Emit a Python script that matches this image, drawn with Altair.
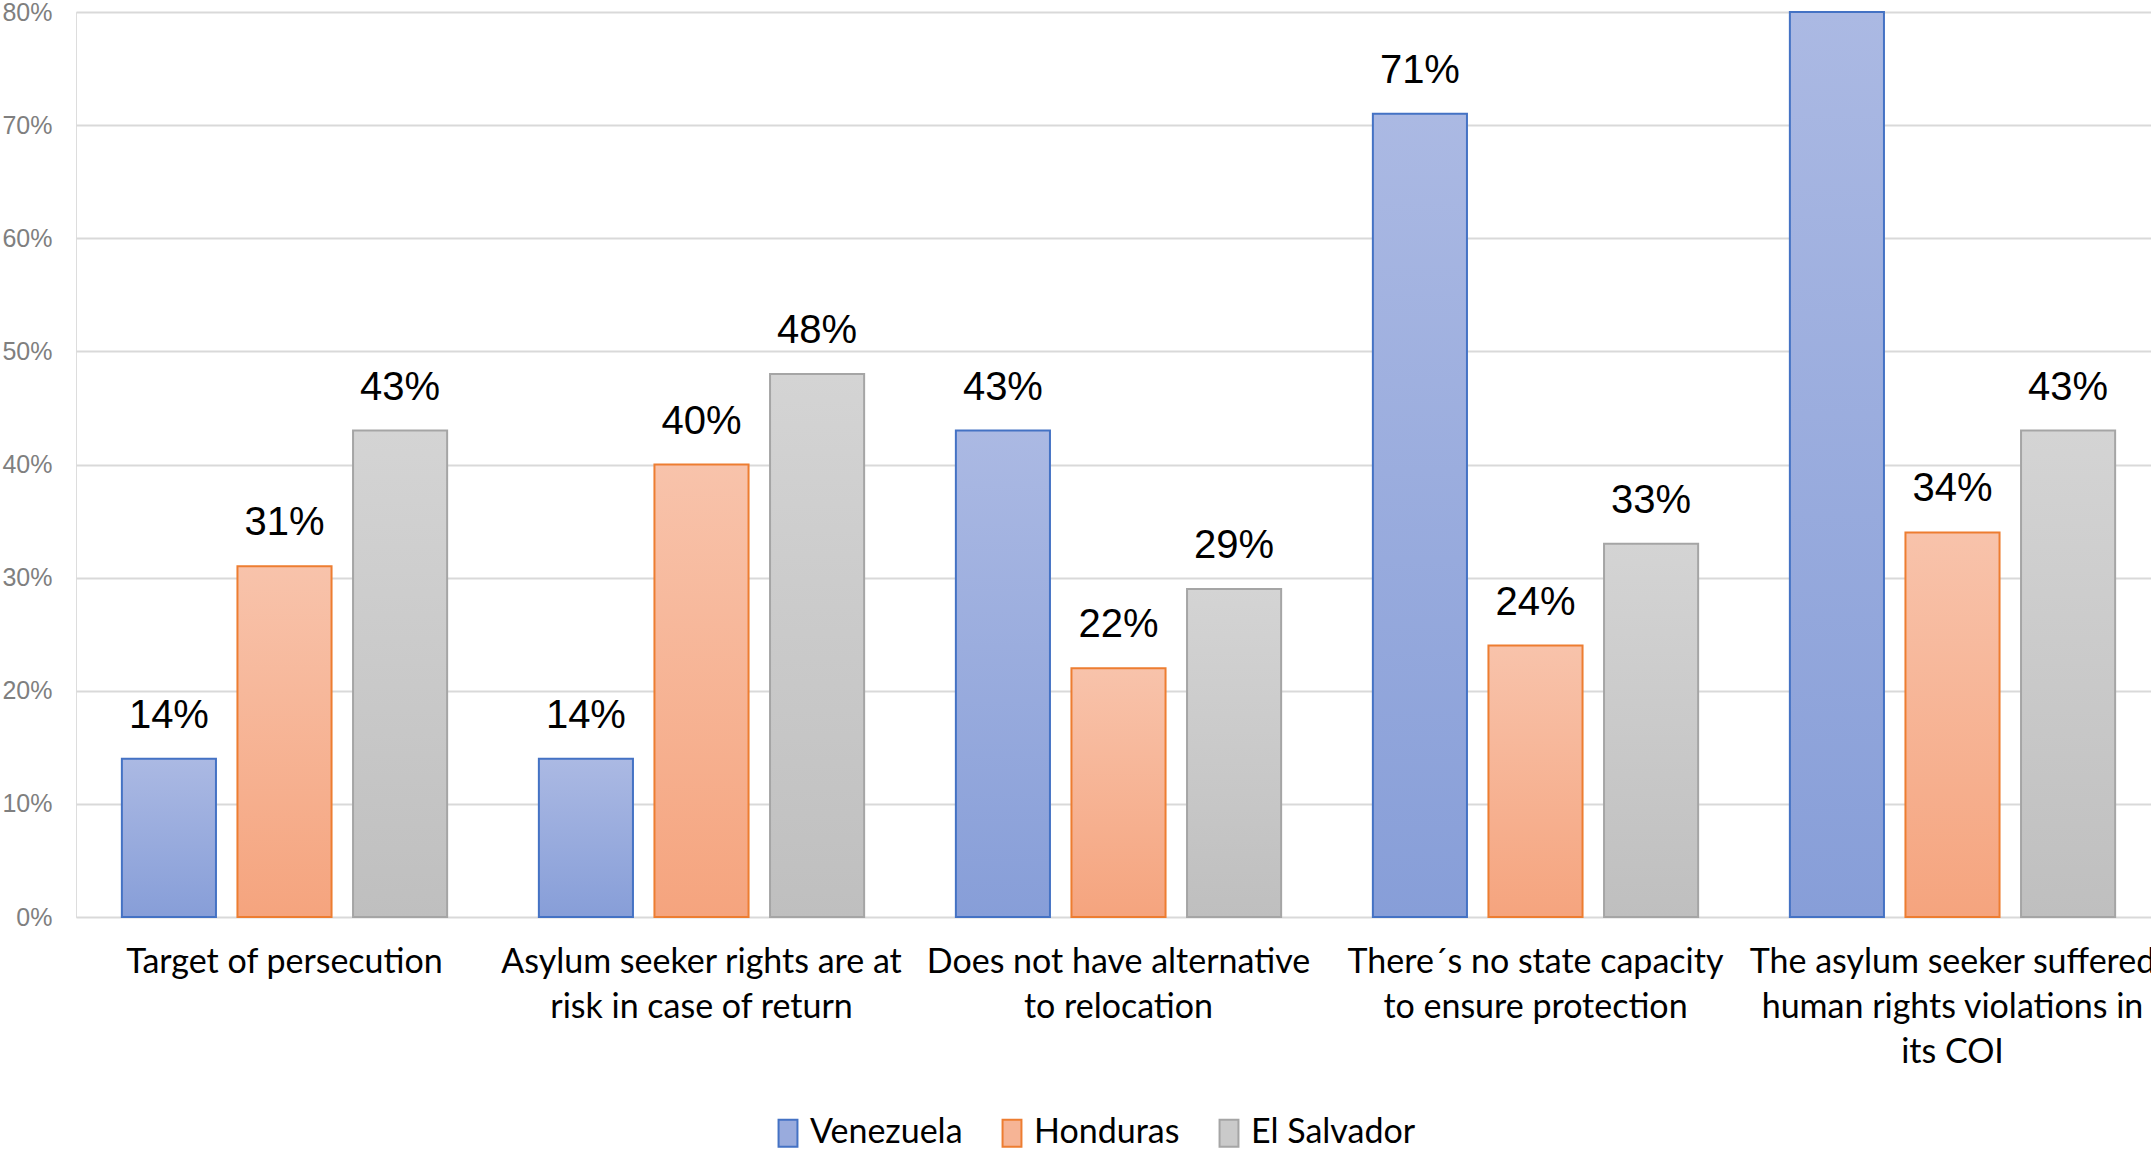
import altair as alt
import pandas as pd

categories = [
    "Target of persecution",
    "Asylum seeker rights are at|risk in case of return",
    "Does not have alternative|to relocation",
    "There´s no state capacity|to ensure protection",
    "The asylum seeker suffered|human rights violations in|its COI",
]
series = ["Venezuela", "Honduras", "El Salvador"]
venezuela = [0.14, 0.14, 0.43, 0.71, 0.80]
honduras = [0.31, 0.40, 0.22, 0.24, 0.34]
el_salvador = [0.43, 0.48, 0.29, 0.33, 0.43]

rows = []
for s, vals in zip(series, [venezuela, honduras, el_salvador]):
    for c, v in zip(categories, vals):
        rows.append({"category": c, "series": s, "value": v})
df = pd.DataFrame(rows)

grad_top = {"Venezuela": "#abb9e3", "Honduras": "#f8c3ab", "El Salvador": "#d4d4d4"}
grad_bot = {"Venezuela": "#879ed8", "Honduras": "#f5a47e", "El Salvador": "#bfbfbf"}
strokes = {"Venezuela": "#4472c4", "Honduras": "#ed7d31", "El Salvador": "#a5a5a5"}
mids = {"Venezuela": "#99abdd", "Honduras": "#f6b495", "El Salvador": "#cacaca"}

x_enc = alt.X(
    "category:N",
    sort=categories,
    scale=alt.Scale(paddingInner=0.22, paddingOuter=0.11, range=[0, 2085]),
    axis=alt.Axis(
        title=None,
        labelAngle=0,
        labelLimit=0,
        labelExpr="split(datum.label, '|')",
        labelFont="Lato",
        labelFontSize=34,
        labelColor="#000000",
        labelLineHeight=45,
        labelPadding=28,
        labelBaseline="top",
        domain=False,
        ticks=False,
        grid=False,
    ),
)
xoff_enc = alt.XOffset(
    "series:N", scale=alt.Scale(domain=series, paddingInner=0.186, paddingOuter=0)
)
y_enc = alt.Y(
    "value:Q",
    scale=alt.Scale(domain=[0, 0.8], nice=False),
    axis=alt.Axis(
        title=None,
        format=".0%",
        values=[0, 0.1, 0.2, 0.3, 0.4, 0.5, 0.6, 0.7, 0.8],
        domain=False,
        ticks=False,
        grid=True,
        gridColor="#d9d9d9",
        gridWidth=2,
        labelFont="Liberation Sans",
        labelFontSize=25,
        labelColor="#7f7f7f",
        labelPadding=24,
    ),
)

base = alt.Chart(df)

bar_layers = []
for s in series:
    grad = alt.Gradient(
        gradient="linear",
        stops=[
            alt.GradientStop(color=grad_top[s], offset=0),
            alt.GradientStop(color=grad_bot[s], offset=1),
        ],
        x1=1, x2=1, y1=0, y2=1,
    )
    bar_layers.append(
        base.transform_filter(alt.datum.series == s)
        .mark_bar(fill=grad, stroke=strokes[s], strokeWidth=2)
        .encode(x=x_enc, xOffset=xoff_enc, y=y_enc)
    )

labels = base.mark_text(
    font="Liberation Sans", fontSize=40, color="#000000", baseline="alphabetic", dy=-31
).encode(x=x_enc, xOffset=xoff_enc, y=y_enc, text=alt.Text("value:Q", format=".0%"))

legend_props = dict(
    title=None,
    orient="none",
    direction="horizontal",
    legendX=695,
    legendY=1104,
    symbolType="M-0.7,-1H0.7V1H-0.7Z",
    symbolSize=729,
    symbolStrokeWidth=2,
    symbolOpacity=1,
    labelFont="Lato",
    labelFontSize=34,
    labelColor="#000000",
    labelOffset=5,
    labelLimit=0,
    columnPadding=32,
)

legend_layer = base.mark_square(opacity=0).encode(
    x=x_enc,
    xOffset=xoff_enc,
    y=y_enc,
    color=alt.Color(
        "series:N",
        scale=alt.Scale(domain=series, range=[mids[s] for s in series]),
        legend=alt.Legend(**legend_props),
    ),
    stroke=alt.Stroke(
        "series:N",
        scale=alt.Scale(domain=series, range=[strokes[s] for s in series]),
        legend=alt.Legend(**legend_props),
    ),
)

chart = (
    alt.layer(*bar_layers, labels, legend_layer)
    .properties(
        width=2075,
        height=905,
        autosize=alt.AutoSizeParams(type="none"),
        padding={"left": 76, "top": 12, "right": 0, "bottom": 236},
    )
    .configure_view(stroke=None)
    .configure(background="#ffffff")
)

chart.save("out.html", embed_options={"renderer": "svg", "actions": False})
